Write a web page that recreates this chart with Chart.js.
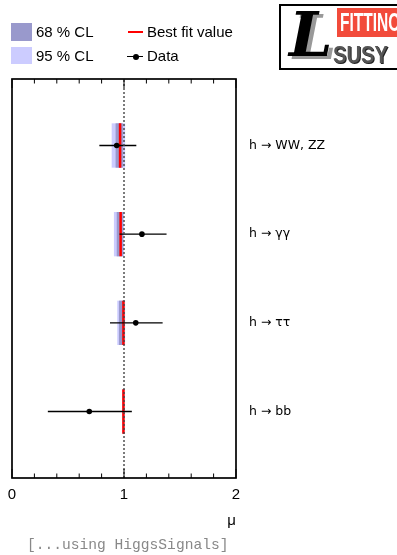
<!DOCTYPE html>
<html><head><meta charset="utf-8">
<script src="https://cdn.jsdelivr.net/npm/chart.js@4"></script>
<style>
html,body{margin:0;padding:0;background:#fff;}
#wrap{position:relative;width:397px;height:555px;overflow:hidden;}
#c{position:absolute;left:0;top:0;}
.lg{position:absolute;font:15px "Liberation Sans",Arial,sans-serif;color:#000;white-space:nowrap;line-height:18px;}
.abs{position:absolute;}
#footer{position:absolute;left:27px;top:536px;font:14.6px "Liberation Mono",monospace;color:#888;white-space:nowrap;line-height:18px;}
#logo{position:absolute;left:279px;top:4px;width:124px;height:66px;border:2px solid #000;box-sizing:border-box;overflow:hidden;background:#fff;}
#fit{position:absolute;left:56px;top:2px;width:70px;height:29px;background:#f24b3b;overflow:hidden;}
#fit span{position:absolute;left:3px;top:-1px;font:bold 25px "Liberation Sans",Arial,sans-serif;color:#fff;transform:scaleX(0.62);transform-origin:0 0;line-height:30px;}
#susy{position:absolute;left:52px;top:36px;font:bold 23px "Liberation Sans",Arial,sans-serif;color:#555;transform:scaleX(0.88);transform-origin:0 0;line-height:26px;text-shadow:1px 1px 0 #222;}
#bigL{position:absolute;left:8px;top:-6px;font:italic bold 62px "DejaVu Serif",serif;color:#000;line-height:70px;text-shadow:4px 3px 0 #999;}
</style>
</head><body>
<div id="wrap">
<canvas id="c" width="397" height="555"></canvas>
<div class="abs" style="left:11px;top:23px;width:21px;height:18px;background:#9999cc"></div>
<div class="lg" style="left:36px;top:23px">68 % CL</div>
<div class="abs" style="left:11px;top:47px;width:21px;height:17px;background:#ccccff"></div>
<div class="lg" style="left:36px;top:47px">95 % CL</div>
<div class="abs" style="left:128px;top:31px;width:15px;height:2px;background:#ff0000"></div>
<div class="lg" style="left:147px;top:23px">Best fit value</div>
<div class="abs" style="left:127px;top:56px;width:16px;height:1.4px;background:#000"></div>
<div class="abs" style="left:132.5px;top:54px;width:6px;height:6px;border-radius:50%;background:#000"></div>
<div class="lg" style="left:147px;top:47px">Data</div>
<div id="logo">
  <div id="bigL">L</div>
  <div id="fit"><span>FITTINO</span></div>
  <div id="susy">SUSY</div>
</div>
<div id="footer">[...using HiggsSignals]</div>
</div>
<script>
// ---- data ----
const categories = ['h \u2192 WW, ZZ', 'h \u2192 \u03B3\u03B3', 'h \u2192 \u03C4\u03C4', 'h \u2192 bb'];
const bestFit  = [0.965, 0.970, 0.995, 0.995];
const cl68Low  = [0.925, 0.935, 0.955, 0.990];
const cl68High = [0.990, 0.990, 1.000, 1.000];
const cl95Low  = [0.890, 0.910, 0.940, 0.985];
const cl95High = [1.010, 1.000, 1.010, 1.005];
const dataValue = [0.935, 1.160, 1.105, 0.690];
const dataLow   = [0.780, 0.960, 0.875, 0.320];
const dataHigh  = [1.110, 1.380, 1.345, 1.070];
const xTickValues = [0, 1, 2];
const smReference = 1;

// ---- derived positions (rows on a linear axis) ----
const nCat = categories.length;
const yMax = nCat + 0.5;
const rowY = i => nCat - i - 0.25;
const rows = categories.map((c, i) => rowY(i));
const halfBand = 0.25;

const band = (lo, hi) => categories.map((c, i) => ({x: [lo[i], hi[i]], y: rowY(i)}));
const bestFitPts = [];
const errPts = [];
categories.forEach((c, i) => {
  bestFitPts.push({x: bestFit[i], y: rowY(i) - halfBand}, {x: bestFit[i], y: rowY(i) + halfBand}, {x: bestFit[i], y: null});
  errPts.push({x: dataLow[i], y: rowY(i)}, {x: dataHigh[i], y: rowY(i)}, {x: dataHigh[i], y: null});
});
const dataPts = categories.map((c, i) => ({x: dataValue[i], y: rowY(i)}));

const framePlugin = {
  id: 'frame',
  afterDatasetsDraw(chart) {
    const {ctx, chartArea: a, scales: {x}} = chart;
    ctx.save();
    ctx.strokeStyle = '#000';
    ctx.lineWidth = 1;
    const sub = 5;
    for (let k = 0; k < xTickValues.length; k++) {
      const v0 = xTickValues[k];
      const drawTick = (v, len) => {
        const px = x.getPixelForValue(v);
        ctx.beginPath();
        ctx.moveTo(px, a.bottom); ctx.lineTo(px, a.bottom - len);
        ctx.moveTo(px, a.top); ctx.lineTo(px, a.top + len);
        ctx.stroke();
      };
      drawTick(v0, 9);
      if (k < xTickValues.length - 1) {
        const step = (xTickValues[k + 1] - v0) / sub;
        for (let j = 1; j < sub; j++) drawTick(v0 + j * step, 4.5);
      }
    }
    ctx.lineWidth = 1.7;
    ctx.strokeRect(a.left, a.top, a.right - a.left, a.bottom - a.top);
    ctx.restore();
  }
};

new Chart(document.getElementById('c'), {
  type: 'bar',
  data: {
    datasets: [
      {type: 'bar', label: '95 % CL', indexAxis: 'y', data: band(cl95Low, cl95High), backgroundColor: '#ccccff',
       borderWidth: 0, grouped: false, barPercentage: 0.5, categoryPercentage: 1, order: 7},
      {type: 'bar', label: '68 % CL', indexAxis: 'y', data: band(cl68Low, cl68High), backgroundColor: '#9999cc',
       borderWidth: 0, grouped: false, barPercentage: 0.5, categoryPercentage: 1, order: 6},
      {type: 'line', label: 'Best fit value', data: bestFitPts, borderColor: '#ff0000', borderWidth: 2.5,
       pointRadius: 0, spanGaps: false, order: 5},
      {type: 'line', label: 'Data error', data: errPts, borderColor: '#000', borderWidth: 1.3,
       pointRadius: 0, spanGaps: false, order: 4},
      {type: 'line', label: 'SM', data: [{x: smReference, y: 0}, {x: smReference, y: yMax}], borderColor: '#444',
       borderWidth: 1.4, borderDash: [2, 2], pointRadius: 0, order: 3},
      {type: 'scatter', label: 'Data', data: dataPts, backgroundColor: '#000', borderColor: '#000',
       pointRadius: 2.8, borderWidth: 0, order: 1}
    ]
  },
  options: {
    responsive: false,
    animation: false,
    layout: {padding: {left: 12, top: 79, right: 0, bottom: 0}},
    plugins: {legend: {display: false}, tooltip: {enabled: false}},
    scales: {
      x: {
        type: 'linear', position: 'bottom', min: 0, max: 2, offset: false,
        grid: {display: false, offset: false}, border: {display: false},
        afterBuildTicks: s => { s.ticks = xTickValues.map(v => ({value: v})); },
        ticks: {color: '#000', font: {family: '"Liberation Sans", Arial, sans-serif', size: 15}, padding: 0,
                callback: v => String(v)},
        title: {display: true, text: '\u03BC', align: 'end', color: '#000',
                font: {family: '"Liberation Sans", Arial, sans-serif', size: 15}, padding: {top: 0, bottom: 25}},
        afterFit: s => { s.height = 77; }
      },
      y: {
        type: 'linear', position: 'right', min: 0, max: yMax, offset: false,
        grid: {display: false, offset: false}, border: {display: false},
        afterBuildTicks: s => { s.ticks = rows.map(v => ({value: v})); },
        ticks: {color: '#000', font: {family: '"DejaVu Sans", sans-serif', size: 12.5}, padding: 5,
                callback: v => { const i = rows.indexOf(v); return i >= 0 ? categories[i] : ''; }},
        afterFit: s => { s.width = 161; }
      }
    }
  },
  plugins: [framePlugin]
});
</script>
</body></html>
